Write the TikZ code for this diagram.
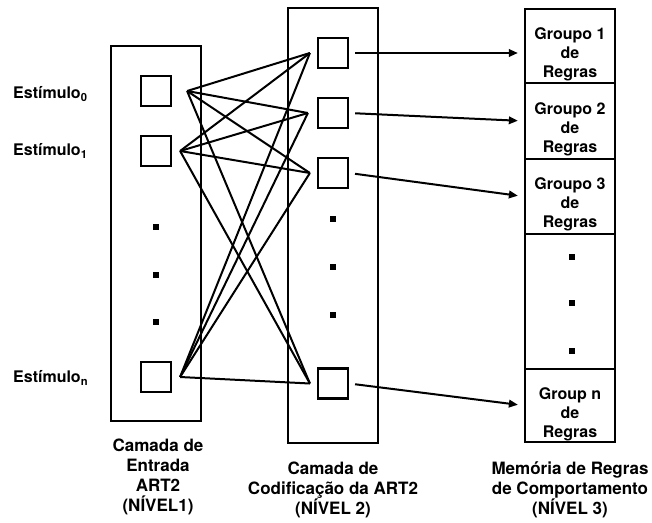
\documentclass[tikz,border=0pt]{standalone}
\usepackage{fontspec}
\setmainfont{TeX Gyre Heros}
\usetikzlibrary{arrows.meta,positioning}
\tikzset{
  layer/.style  ={rectangle,draw,line width=2.3pt,minimum width=90pt,inner sep=0pt},
  unit/.style   ={rectangle,draw,line width=2.2pt,minimum size=30pt,inner sep=0pt},
  cell/.style   ={rectangle,draw,line width=2.3pt,minimum width=90pt,inner sep=0pt},
  dot/.style    ={rectangle,fill,minimum size=5.5pt,inner sep=0pt},
  link/.style   ={line width=2pt},
  feed/.style   ={-{Triangle[length=9pt,width=7.5pt]},line width=2pt,shorten <=6pt,shorten >=6pt},
  rules/.style  ={align=center,inner sep=0pt,font=\bfseries\fontsize{16}{19}\selectfont},
  stim/.style   ={anchor=west,inner sep=0pt,font=\bfseries\fontsize{16}{19}\selectfont},
  caption/.style={anchor=north,align=center,inner sep=0pt,font=\bfseries\fontsize{17}{20}\selectfont},
}

\begin{document}
\begin{tikzpicture}[x=1pt,y=-1pt]
  \useasboundingbox (0,0) rectangle (652,522);

  % input layer (level 1)
  \node[layer,minimum height=375pt] (inp) at (156,233.5) {};
  \node[unit] (s0) at (156,91) {};
  \node[unit] (s1) at (156,151) {};
  \node[unit] (sn) at (156,377) {};
  \foreach \y in {227,275,322}{\node[dot] at (156,\y) {};}
  \node[stim] (l0) at (13,94) {Estímulo\textsubscript{0}};
  \node[stim] (l1) at (13,151) {Estímulo\textsubscript{1}};
  \node[stim] (ln) at (13,378) {Estímulo\textsubscript{n}};

  % coding layer (level 2)
  \node[layer,minimum height=435pt] (cod) at (333,225.5) {};
  \node[unit] (m1) at (333,53) {};
  \node[unit] (m2) at (333,113) {};
  \node[unit] (m3) at (333,173) {};
  \node[unit] (m4) at (333,383.5) {};
  \foreach \y in {219,267,315}{\node[dot] at (333,\y) {};}

  % rule memory (level 3)
  \node[cell,minimum height=74pt]  (g1) at (570,46) {};
  \node[cell,minimum height=76pt]  (g2) at (570,121) {};
  \node[cell,minimum height=75pt]  (g3) at (570,196.5) {};
  \node[cell,minimum height=135pt] (gd) at (570,301.5) {};
  \node[cell,minimum height=73pt]  (gn) at (570,405.5) {};
  \node[rules,yshift=-8pt] (r1) at (g1) {Groupo 1\\de\\Regras};
  \node[rules,yshift=-8pt] (r2) at (g2) {Groupo 2\\de\\Regras};
  \node[rules,yshift=-8pt] (r3) at (g3) {Groupo 3\\de\\Regras};
  \node[rules,yshift=-9pt] (rn) at (gn) {Group n\\de\\Regras};
  \foreach \y in {257,303,351}{\node[dot] at (572,\y) {};}

  % full connections level 1 -> level 2
  \coordinate (i0) at ([xshift=15pt]s0.east);
  \coordinate (i1) at ([xshift=8pt]s1.east);
  \coordinate (in) at ([xshift=8pt]sn.east);
  \coordinate (t1) at ([xshift=-7pt]m1.west);
  \coordinate (t2) at ([xshift=-9pt]m2.west);
  \coordinate (t3) at ([xshift=-7pt]m3.west);
  \coordinate (t4) at ([xshift=-7pt]m4.west);
  \foreach \a in {i0,i1,in}{
    \foreach \b in {t1,t2,t3,t4}{\draw[link] (\a) -- (\b);}
  }

  % level 2 -> level 3
  \draw[feed] (m1.east) -- (g1.west |- m1.east);
  \foreach \x/\y in {m2/g2,m3/g3,m4/gn}{\draw[feed] (\x.east) -- (\y.west);}

  % captions
  \node[caption] (c1) at (158,439) {Camada de\\Entrada\\ART2\\(NÍVEL1)};
  \node[caption] (c2) at (333,462) {Camada de\\Codificação da ART2\\(NÍVEL 2)};
  \node[caption] (c3) at (570,462) {Memória de Regras\\de Comportamento\\(NÍVEL 3)};
\end{tikzpicture}
\end{document}
